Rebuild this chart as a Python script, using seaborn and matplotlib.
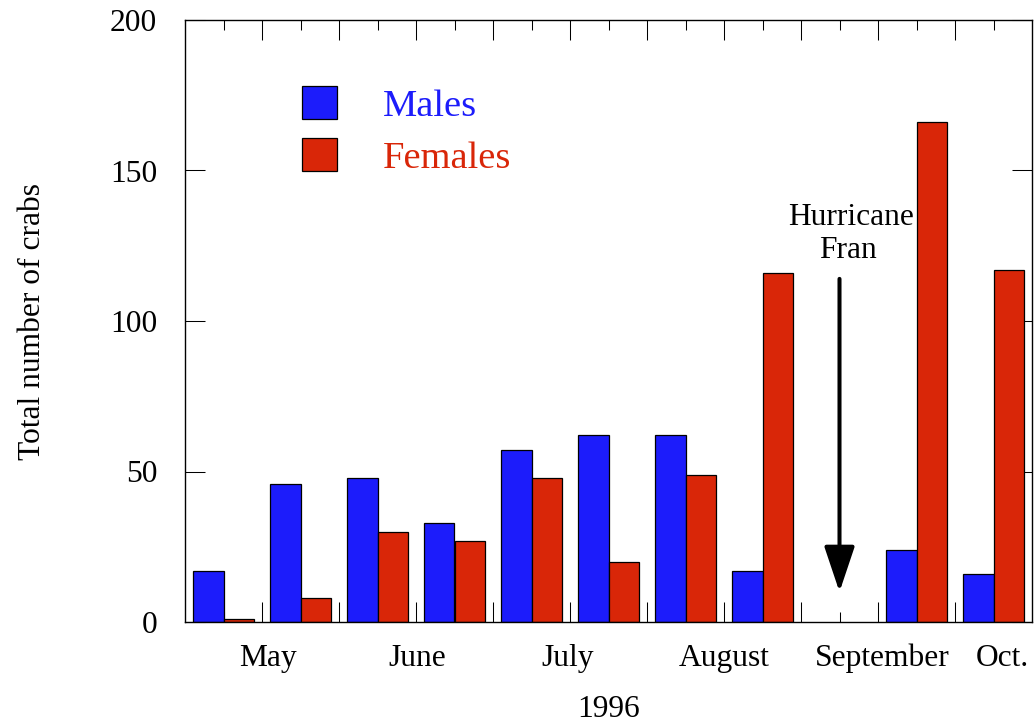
import matplotlib
matplotlib.use("Agg")
import matplotlib.pyplot as plt
import numpy as np
import pandas as pd
import seaborn as sns
from matplotlib.patches import Patch
from matplotlib.ticker import FixedLocator, NullFormatter
from matplotlib.transforms import blended_transform_factory

# Sampling trips through the 1996 season; trip 9 fell after Hurricane Fran
samples = ["T1", "T2", "T3", "T4", "T5", "T6", "T7", "T8", "T9", "T10", "T11"]
males = [17, 46, 48, 33, 57, 62, 62, 17, None, 24, 16]
females = [1, 8, 30, 27, 48, 20, 49, 116, None, 166, 117]
sexes = ["Males", "Females"]
colors = ["#1c1cfb", "#d92608"]

months = ["May", "June", "July", "August", "September", "Oct."]
month_pos = [0.58, 2.52, 4.47, 6.5, 8.56, 10.12]
y_ticks = [0, 50, 100, 150, 200]

storm_trip = 8
storm_arrow = (114, 10)  # tail, tip (number of crabs)

rows = []
for s, m, f in zip(samples, males, females):
    if m is not None:
        rows.append({"sample": s, "sex": "Males", "count": m})
    if f is not None:
        rows.append({"sample": s, "sex": "Females", "count": f})
df = pd.DataFrame(rows)

sns.set_style("white")
plt.rcParams["font.family"] = ["Liberation Serif", "DejaVu Serif"]
plt.rcParams["text.color"] = "black"
plt.rcParams["axes.labelcolor"] = "black"
plt.rcParams["xtick.color"] = "black"
plt.rcParams["ytick.color"] = "black"
FS = 22.7

fig, ax = plt.subplots(figsize=(10.36, 7.25), dpi=100)
fig.subplots_adjust(left=185 / 1036, right=1032 / 1036,
                    bottom=1 - 622 / 725, top=1 - 20 / 725)

sns.barplot(data=df, x="sample", y="count", hue="sex", order=samples,
            hue_order=sexes, palette=dict(zip(sexes, colors)), saturation=1,
            edgecolor="black", linewidth=0.9, errorbar=None, legend=False,
            width=0.8, ax=ax)

ax.set_xlim(-0.5, len(samples) - 0.5)
ax.set_ylim(0, 200)
ax.set_axisbelow(True)

for sp in ax.spines.values():
    sp.set_visible(True)
    sp.set_color("black")
    sp.set_linewidth(1.0)

# x ticks: long marks between trips, short marks at each trip
ax.xaxis.set_major_locator(FixedLocator(np.arange(0.5, len(samples) - 1, 1.0)))
ax.xaxis.set_minor_locator(FixedLocator(np.arange(0, len(samples), 1.0)))
ax.xaxis.set_major_formatter(NullFormatter())
ax.set_yticks(y_ticks)
ax.set_yticklabels([str(v) for v in y_ticks])
ax.tick_params(axis="x", which="major", direction="in", length=14.4, width=0.75,
               top=True, bottom=True, labelbottom=False)
ax.tick_params(axis="x", which="minor", direction="in", length=7.4, width=0.75,
               top=True, bottom=True)
ax.tick_params(axis="y", which="major", direction="in", length=14.4, width=0.75,
               left=True, right=True, labelsize=FS, pad=20)
ax.set_xlabel("")
ax.set_ylabel("Total number of crabs", fontsize=FS, color="black")
ax.yaxis.set_label_coords(-0.163, 0.5)

trans = blended_transform_factory(ax.transData, ax.transAxes)
for name, pos in zip(months, month_pos):
    ax.text(pos, -0.0731, name, transform=trans, ha="center", va="baseline",
            fontsize=FS, color="black")
ax.text(0.5, -0.1578, "1996", transform=ax.transAxes, ha="center",
        va="baseline", fontsize=FS, color="black")

# Hurricane Fran marker
ax.text(storm_trip + 0.15, 132, "Hurricane", ha="center", va="baseline",
        fontsize=FS, color="black")
ax.text(storm_trip + 0.11, 121, "Fran", ha="center", va="baseline",
        fontsize=FS, color="black")
ax.annotate("", xy=(storm_trip, storm_arrow[1]), xytext=(storm_trip, storm_arrow[0]),
            arrowprops=dict(arrowstyle="-|>,head_length=1.4,head_width=0.47",
                            mutation_scale=20, lw=2.9, color="black",
                            shrinkA=0, shrinkB=0))

handles = [Patch(facecolor=c, edgecolor="black", linewidth=0.9) for c in colors]
ax.legend(handles, sexes, loc="upper left", bbox_to_anchor=(0.138, 0.890),
          frameon=False, fontsize=27.7, handlelength=0.91, handleheight=0.93,
          handletextpad=1.19, labelspacing=0.37, borderpad=0, borderaxespad=0,
          labelcolor=colors)

fig.savefig("out.png", dpi=100)
